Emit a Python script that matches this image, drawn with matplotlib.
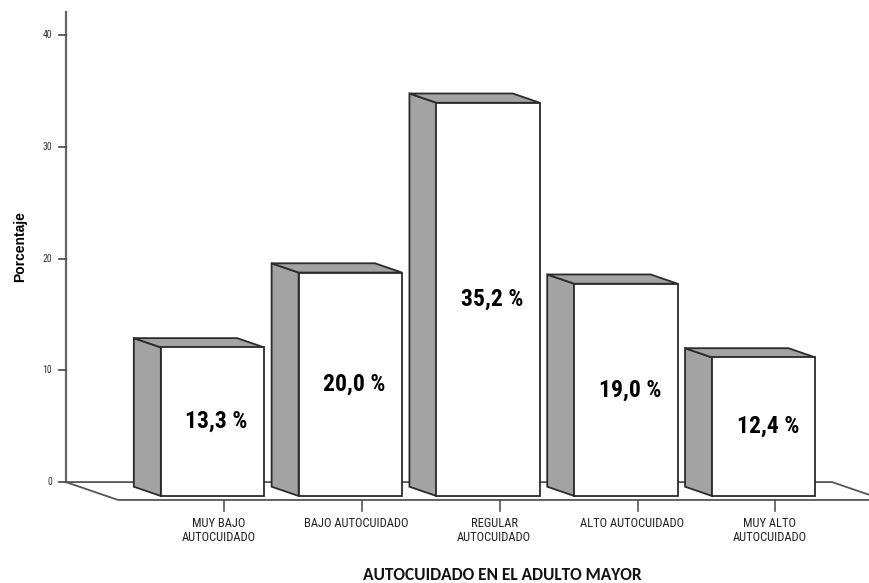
import matplotlib.pyplot as plt
from matplotlib.patches import Polygon

categories = ['MUY BAJO\nAUTOCUIDADO', 'BAJO AUTOCUIDADO', 'REGULAR\nAUTOCUIDADO',
              'ALTO AUTOCUIDADO', 'MUY ALTO\nAUTOCUIDADO']
percentages = [13.3, 20.0, 35.2, 19.0, 12.4]
value_labels = ['13,3 %', '20,0 %', '35,2 %', '19,0 %', '12,4 %']
y_ticks = [0, 10, 20, 30, 40]

# oblique projection: one unit of depth moves the point up and to the left
DEPTH_DX, DEPTH_DY = -0.196, 0.83
BAR_WIDTH = 0.75
WALL_D, FLOOR_FRONT_D = 1.5, -0.43
FLOOR_X0, FLOOR_X1 = -0.77, 4.79
AXIS_TOP = 42.1

NARROW = ['Roboto Condensed', 'PT Sans Narrow', 'DejaVu Sans']
EDGE = '#2b2b2b'
SHADE = '#a3a3a3'


def proj(x, y, d):
    return (x + d * DEPTH_DX, y + d * DEPTH_DY)


fig = plt.figure(figsize=(8.7, 5.83), dpi=100)
ax = fig.add_axes([0, 0, 1, 1])
ax.set_xlim(-1.542, 4.771)
ax.set_ylim(-7.79, 44.40)
ax.axis('off')

# floor outline
line_kw = dict(color='#555555', lw=1.3, zorder=1, solid_capstyle='butt')
bl = proj(FLOOR_X0, 0, WALL_D)
br = proj(FLOOR_X1, 0, WALL_D)
fl = proj(FLOOR_X0, 0, FLOOR_FRONT_D)
fr = proj(FLOOR_X1, 0, FLOOR_FRONT_D)
ax.plot([bl[0], br[0], fr[0]], [bl[1], br[1], fr[1]], **line_kw)
ax.plot([bl[0], fl[0], fr[0] + 1], [bl[1], fl[1], fl[1]], **line_kw)

# value axis on the back wall
top = proj(FLOOR_X0, AXIS_TOP, WALL_D)
ax.plot([bl[0], top[0]], [bl[1], top[1]], color='#666666', lw=1.6, zorder=1)
for t in y_ticks:
    px, py = proj(FLOOR_X0, t, WALL_D)
    ax.plot([px - 0.05, px], [py, py], color='#444444', lw=1.2, zorder=1)
    ax.text(px - 0.1, py, str(t), ha='right', va='center', fontsize=7,
            family=NARROW, color='#333333')

# category ticks on the front edge of the floor
for i, lab in enumerate(categories):
    px, py = proj(i, 0, FLOOR_FRONT_D)
    ax.plot([px, px], [py, py - 0.95], color='#555555', lw=1.2, zorder=1)
    ax.text(px - 0.04, py - 1.55, lab, ha='center', va='top', fontsize=9,
            family=NARROW, color='#222222', linespacing=1.05)

# bars: shaded side and top, white front
for i, v in enumerate(percentages):
    x0, x1 = i - BAR_WIDTH / 2, i + BAR_WIDTH / 2
    side = [proj(x0, 0, 0), proj(x0, v, 0), proj(x0, v, 1), proj(x0, 0, 1)]
    lid = [proj(x0, v, 0), proj(x1, v, 0), proj(x1, v, 1), proj(x0, v, 1)]
    front = [(x0, 0), (x1, 0), (x1, v), (x0, v)]
    for pts, fc in ((side, SHADE), (lid, SHADE), (front, 'white')):
        ax.add_patch(Polygon(pts, closed=True, facecolor=fc, edgecolor=EDGE,
                             lw=1.3, joinstyle='miter', zorder=3))
    ax.text(i + 0.03, v / 2, value_labels[i], ha='center', va='center',
            fontsize=17, fontweight='bold', family=NARROW, color='black',
            zorder=4)

fig.text(20 / 870, 1 - 247 / 583, 'Porcentaje', rotation=90, ha='center',
         va='center', fontsize=10, fontweight='bold',
         family=['Liberation Sans', 'DejaVu Sans'])
fig.text(502 / 870, 1 - 575 / 583, 'AUTOCUIDADO EN EL ADULTO MAYOR',
         ha='center', va='center', fontsize=12.5, fontweight='bold',
         family=['Carlito', 'Open Sans', 'DejaVu Sans'], color='#111111')

fig.savefig('out.png', dpi=100)
